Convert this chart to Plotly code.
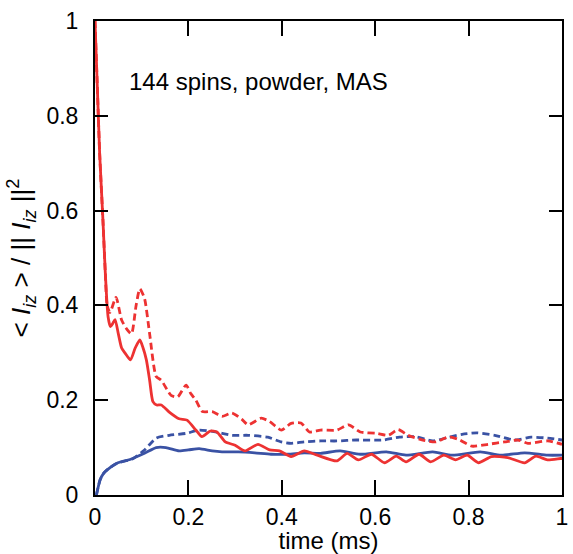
import plotly.graph_objects as go

# Red solid
red_solid_t = [0, 0.005, 0.01, 0.017, 0.022, 0.028, 0.033, 0.038, 0.043, 0.05, 0.057, 0.064, 0.076,
               0.086, 0.096, 0.103, 0.11, 0.117, 0.124, 0.132, 0.142, 0.159, 0.18, 0.197, 0.216,
               0.229, 0.247, 0.261, 0.279, 0.30, 0.321, 0.349, 0.374, 0.395, 0.42, 0.448, 0.476,
               0.518, 0.540, 0.564, 0.592, 0.620, 0.645, 0.666, 0.694, 0.719, 0.747, 0.772, 0.797,
               0.821, 0.849, 0.884, 0.920, 0.944, 0.969, 0.997, 1.0]
red_solid_v = [1.0, 0.86, 0.72, 0.58, 0.47, 0.376, 0.355, 0.362, 0.37, 0.34, 0.31, 0.30, 0.285,
               0.31, 0.327, 0.31, 0.285, 0.242, 0.197, 0.19, 0.19, 0.175, 0.161, 0.158, 0.137,
               0.123, 0.135, 0.133, 0.112, 0.105, 0.093, 0.107, 0.095, 0.093, 0.081, 0.093, 0.084,
               0.072, 0.088, 0.074, 0.086, 0.068, 0.082, 0.070, 0.086, 0.070, 0.084, 0.074, 0.084,
               0.068, 0.081, 0.079, 0.068, 0.082, 0.074, 0.077, 0.077]

# Red dashed
red_dash_t = [0, 0.005, 0.01, 0.017, 0.022, 0.026, 0.032, 0.045, 0.057, 0.068, 0.078, 0.088, 0.096,
              0.106, 0.117, 0.131, 0.142, 0.163, 0.177, 0.195, 0.205, 0.216, 0.23, 0.251, 0.272,
              0.293, 0.314, 0.328, 0.356, 0.374, 0.399, 0.42, 0.441, 0.459, 0.483, 0.518, 0.543,
              0.568, 0.603, 0.628, 0.649, 0.670, 0.702, 0.730, 0.758, 0.779, 0.807, 0.842, 0.877,
              0.906, 0.927, 0.969, 1.0]
red_dash_v = [1.0, 0.86, 0.72, 0.58, 0.47, 0.40, 0.385, 0.417, 0.369, 0.35, 0.34, 0.40, 0.435,
              0.415, 0.34, 0.25, 0.242, 0.21, 0.207, 0.232, 0.214, 0.20, 0.176, 0.176, 0.166,
              0.173, 0.160, 0.148, 0.162, 0.155, 0.137, 0.151, 0.152, 0.133, 0.137, 0.137, 0.148,
              0.133, 0.130, 0.126, 0.138, 0.126, 0.116, 0.112, 0.123, 0.117, 0.103, 0.107, 0.112,
              0.116, 0.109, 0.114, 0.107]

# Blue solid
blue_solid_t = [0.003, 0.011, 0.018, 0.026, 0.047, 0.075, 0.106, 0.131, 0.152, 0.18, 0.2, 0.223,
                0.251, 0.272, 0.307, 0.342, 0.377, 0.413, 0.448, 0.483, 0.525, 0.568, 0.624, 0.666,
                0.723, 0.765, 0.825, 0.87, 0.92, 0.969, 1.0]
blue_solid_v = [0.0, 0.032, 0.045, 0.053, 0.067, 0.075, 0.088, 0.10, 0.10, 0.093, 0.095, 0.098,
                0.093, 0.091, 0.091, 0.089, 0.086, 0.086, 0.089, 0.088, 0.093, 0.086, 0.091, 0.084,
                0.091, 0.084, 0.091, 0.084, 0.089, 0.084, 0.084]

# Blue dashed
blue_dash_t = [0.003, 0.011, 0.018, 0.026, 0.047, 0.08, 0.106, 0.131, 0.159, 0.195, 0.223, 0.258,
               0.293, 0.328, 0.37, 0.399, 0.42, 0.448, 0.483, 0.518, 0.56, 0.617, 0.652, 0.687,
               0.723, 0.758, 0.786, 0.818, 0.856, 0.899, 0.934, 0.969, 1.0]
blue_dash_v = [0.0, 0.032, 0.045, 0.053, 0.067, 0.076, 0.095, 0.12, 0.126, 0.130, 0.137, 0.133,
               0.126, 0.126, 0.122, 0.112, 0.109, 0.112, 0.114, 0.114, 0.116, 0.116, 0.122, 0.123,
               0.114, 0.122, 0.128, 0.131, 0.126, 0.116, 0.122, 0.120, 0.116]

x_ticks = [0, 0.2, 0.4, 0.6, 0.8, 1]
x_tick_text = ["0", "0.2", "0.4", "0.6", "0.8", "1"]
y_ticks = [0, 0.2, 0.4, 0.6, 0.8, 1]
y_tick_text = ["0", "0.2", "0.4", "0.6", "0.8", "1"]

RED = "rgb(237,50,50)"
BLUE = "rgb(58,82,164)"
W = 2.8
DASH = "7px,4px"

fig = go.Figure()
fig.add_trace(go.Scatter(x=blue_dash_t, y=blue_dash_v, mode="lines",
                         line=dict(color=BLUE, width=W, dash=DASH, shape="spline", smoothing=0.6)))
fig.add_trace(go.Scatter(x=blue_solid_t, y=blue_solid_v, mode="lines",
                         line=dict(color=BLUE, width=W, shape="spline", smoothing=0.6)))
fig.add_trace(go.Scatter(x=red_dash_t, y=red_dash_v, mode="lines",
                         line=dict(color=RED, width=W, dash=DASH, shape="spline", smoothing=0.6)))
fig.add_trace(go.Scatter(x=red_solid_t, y=red_solid_v, mode="lines",
                         line=dict(color=RED, width=W, shape="spline", smoothing=0.6)))

FAM = "Liberation Sans, Arial, sans-serif"
font = dict(family=FAM, size=23, color="black")
big = dict(family=FAM, size=24, color="black")

fig.update_layout(
    width=573, height=554,
    margin=dict(l=95, r=5, t=21, b=59),
    paper_bgcolor="white", plot_bgcolor="white",
    showlegend=False,
    font=font,
    xaxis=dict(range=[0, 1], tickvals=x_ticks, ticktext=x_tick_text,
               ticks="inside", ticklen=15, tickwidth=1.5, tickcolor="black",
               showline=True, linecolor="black", linewidth=2, mirror="ticks",
               showgrid=False, zeroline=False, tickfont=font,
               title=dict(text="time (ms)", font=big, standoff=2)),
    yaxis=dict(range=[0, 1], tickvals=y_ticks, ticktext=y_tick_text,
               ticks="inside", ticklen=13, tickwidth=1.5, tickcolor="black",
               showline=True, linecolor="black", linewidth=2, mirror="ticks",
               showgrid=False, zeroline=False, tickfont=font, ticklabelstandoff=10,
               title=dict(text="< <i>I</i><sub><i>iz</i></sub> > / || <i>I</i><sub><i>iz</i></sub> ||<sup>2</sup>",
                          font=dict(family=FAM, size=26, color="black"), standoff=8)),
    annotations=[dict(text="144 spins, powder, MAS", xref="paper", yref="paper",
                      x=0.068, y=0.872, xanchor="left", yanchor="middle",
                      showarrow=False, font=big)],
)

fig.write_html("out.html")
